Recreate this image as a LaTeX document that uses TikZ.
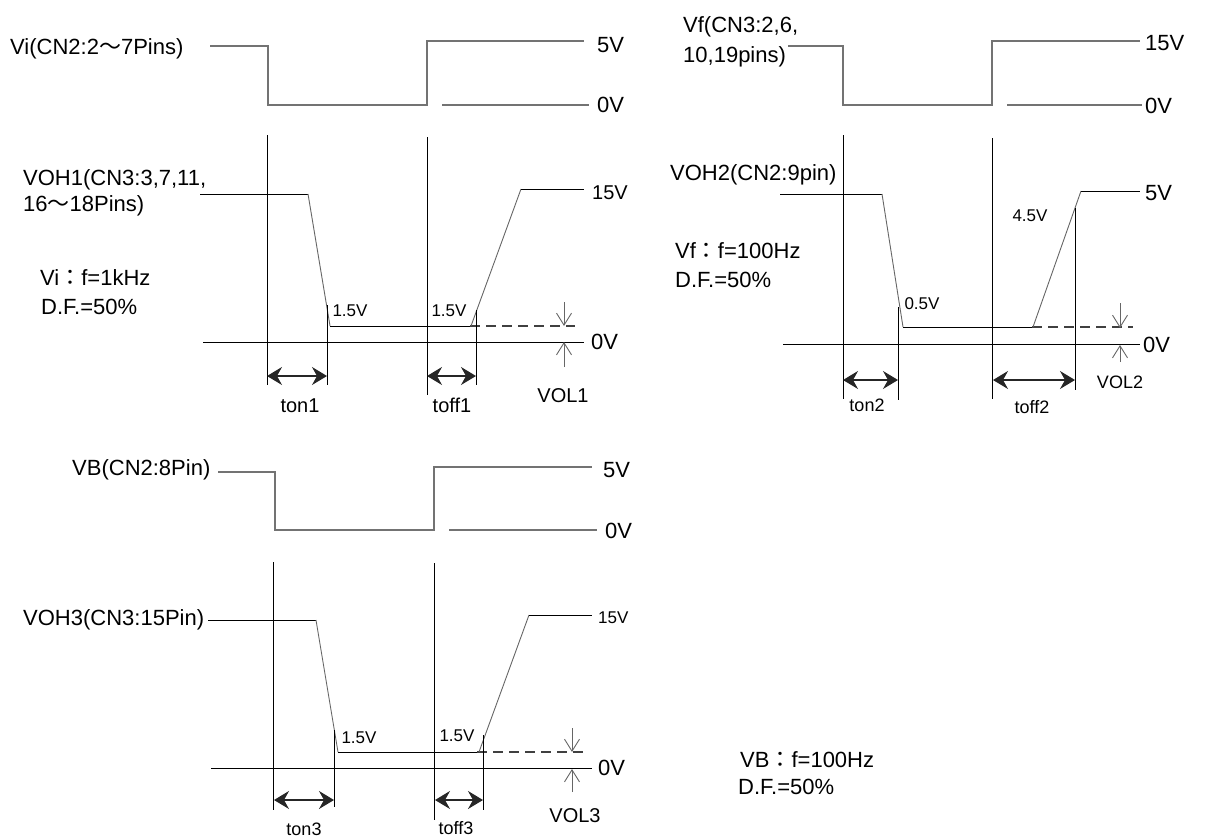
\documentclass[tikz,border=0pt]{standalone}
\usepackage{fontspec}
\setmainfont{Liberation Sans}
\newfontfamily\cjk{Noto Sans CJK JP}
\usetikzlibrary{arrows.meta}

\tikzset{
  sqwave/.style={line width=1.6pt, color=black!55},
  outwave/.style={line width=1pt, color=black},
  ramp/.style={line width=0.9pt, color=black!60},
  guide/.style={line width=1pt, color=black},
  dashlvl/.style={line width=2pt, color=black!75, dash pattern=on 10pt off 6pt},
  tarrow/.style={line width=1.6pt, color=black!85, {Stealth[length=15pt,width=18pt,inset=5pt]}-{Stealth[length=15pt,width=18pt,inset=5pt]}},
  volarrow/.style={line width=0.9pt, color=black!60, -{Straight Barb[length=12pt,width=15pt]}},
  biglbl/.style={font=\fontsize{22}{26}\selectfont, inner sep=0pt, text height=15.8pt, text depth=0pt},
  midlbl/.style={font=\fontsize{20}{24}\selectfont, inner sep=0pt, text height=14.4pt, text depth=0pt},
  smllbl/.style={font=\fontsize{17}{20}\selectfont, inner sep=0pt, text height=12.2pt, text depth=0pt}
}

\begin{document}
\begin{tikzpicture}[x=1pt, y=-1pt]
\useasboundingbox (0,0) rectangle (1216,839);

%%%% Vi -> VOH1
\node[biglbl, anchor=west] (vi) at (10,47) {Vi(CN2:2{\cjk ～}7Pins)};
\draw[sqwave] (210,46) -- (268,46) -- (268,105) -- (427,105) -- (427,41) -- (584,41);
\draw[sqwave] (442,105) -- (589,105);
\node[biglbl, anchor=west] (vi5) at (597,45) {5V};
\node[biglbl, anchor=west] (vi0) at (597,105) {0V};

\draw[guide] (267,135) -- (267,385);
\draw[guide] (427,137) -- (427,395);

\node[biglbl, anchor=west] (voh1a) at (23,178) {VOH1(CN3:3,7,11,};
\node[biglbl, anchor=west] (voh1b) at (23,204) {16{\cjk ～}18Pins)};
\draw[outwave] (200,194) -- (308,194);
\draw[ramp] (308,194) -- (330,326); %fronte discesa
\draw[outwave] (330,326) -- (470,326);
\draw[dashlvl] (470,326) -- (575,326);
\draw[ramp] (471,326) -- (521,189); %fronte salita
\draw[outwave] (521,189) -- (584,189);
\node[midlbl, anchor=west] (voh15) at (592,192) {15V};
\draw[guide] (327,305) -- (327,385);
\draw[guide] (476,310) -- (476,385);
\draw[guide] (203,342) -- (584,342);
\node[biglbl, anchor=west] (voh0) at (591,342) {0V};
\draw[volarrow] (564,302) -- (564,326);
\draw[volarrow] (564,367) -- (564,342);
\draw[tarrow] (267,376) -- (327,376);
\draw[tarrow] (427,376) -- (476,376);
\node[smllbl] (v15a) at (350,310) {1.5V};
\node[smllbl] (v15b) at (449,310) {1.5V};
\node[midlbl] (ton1) at (300,405) {ton1};
\node[midlbl] (toff1) at (452,405) {toff1};
\node[midlbl] (vol1) at (563,395) {VOL1};
\node[biglbl, anchor=west] (fi) at (40,278) {Vi{\cjk ：}f=1kHz};
\node[biglbl, anchor=west] (dfi) at (41,307) {D.F.=50\%};

%%%% Vf -> VOH2
\node[biglbl, anchor=west] (vfa) at (683,25) {Vf(CN3:2,6,};
\node[biglbl, anchor=west] (vfb) at (683,55) {10,19pins)};
\draw[sqwave] (788,46) -- (843,46) -- (843,105) -- (992,105) -- (992,41) -- (1140,41);
\draw[sqwave] (1007,105) -- (1142,105);
\node[biglbl, anchor=west] (vf15) at (1145,43) {15V};
\node[biglbl, anchor=west] (vf0) at (1145,106) {0V};

\draw[guide] (843,135) -- (843,399);
\draw[guide] (992,138) -- (992,399);

\node[biglbl, anchor=west] (voh2) at (670,173) {VOH2(CN2:9pin)};
\draw[outwave] (780,194) -- (882,194);
\draw[ramp] (882,194) -- (903,327); %fronte discesa
\draw[outwave] (903,327) -- (1032,327);
\draw[dashlvl] (1032,327) -- (1133,327);
\draw[ramp] (1033,327) -- (1081,191); %fronte salita
\draw[outwave] (1081,191) -- (1140,191);
\node[biglbl, anchor=west] (voh25) at (1145,193) {5V};
\draw[guide] (898,307) -- (898,400);
\draw[guide] (1075,208) -- (1075,390);
\draw[guide] (783,344) -- (1140,344);
\node[biglbl, anchor=west] (voh20) at (1143,345) {0V};
\draw[volarrow] (1120,303) -- (1120,328);
\draw[volarrow] (1120,362) -- (1120,345);
\draw[tarrow] (843,380) -- (898,380);
\draw[tarrow] (993,380) -- (1075,380);
\node[smllbl] (v05) at (922,303) {0.5V};
\node[smllbl] (v45) at (1030,215) {4.5V};
\node[smllbl, font=\fontsize{18}{22}\selectfont] (ton2) at (867,405) {ton2};
\node[smllbl, font=\fontsize{18}{22}\selectfont] (toff2) at (1032,407) {toff2};
\node[smllbl, font=\fontsize{18}{22}\selectfont] (vol2) at (1120,382) {VOL2};
\node[biglbl, anchor=west] (ff) at (675,251) {Vf{\cjk ：}f=100Hz};
\node[biglbl, anchor=west] (dff) at (675,280) {D.F.=50\%};

%%%% VB -> VOH3
\node[biglbl, anchor=west] (vb) at (72,468) {VB(CN2:8Pin)};
\draw[sqwave] (218,472) -- (275,472) -- (275,530) -- (434,530) -- (434,467) -- (592,467);
\draw[sqwave] (449,530) -- (597,530);
\node[biglbl, anchor=west] (vb5) at (603,470) {5V};
\node[biglbl, anchor=west] (vb0) at (605,531) {0V};

\draw[guide] (273,562) -- (273,810);
\draw[guide] (434,563) -- (434,820);

\node[biglbl, anchor=west] (voh3) at (23,618) {VOH3(CN3:15Pin)};
\draw[outwave] (208,620) -- (316,620);
\draw[ramp] (316,620) -- (338,752); %fronte discesa
\draw[outwave] (338,752) -- (477,752);
\draw[dashlvl] (477,752) -- (583,752);
\draw[ramp] (479,752) -- (529,615); %fronte salita
\draw[outwave] (529,615) -- (592,615);
\node[smllbl, anchor=west] (voh315) at (598,617) {15V};
\draw[guide] (334,730) -- (334,807);
\draw[guide] (483,735) -- (483,810);
\draw[guide] (211,768) -- (592,768);
\node[biglbl, anchor=west] (voh30) at (598,768) {0V};
\draw[volarrow] (572,728) -- (572,752);
\draw[volarrow] (572,792) -- (572,769);
\draw[tarrow] (274,800) -- (334,800);
\draw[tarrow] (435,800) -- (483,800);
\node[smllbl] (v15c) at (359,737) {1.5V};
\node[smllbl] (v15d) at (457,735) {1.5V};
\node[smllbl, font=\fontsize{18}{22}\selectfont] (ton3) at (304,829) {ton3};
\node[smllbl, font=\fontsize{18}{22}\selectfont] (toff3) at (456,828) {toff3};
\node[midlbl] (vol3) at (575,815) {VOL3};
\node[biglbl, anchor=west] (fb) at (740,760) {VB{\cjk ：}f=100Hz};
\node[biglbl, anchor=west] (dfb) at (738,787) {D.F.=50\%};

\end{tikzpicture}
\end{document}
